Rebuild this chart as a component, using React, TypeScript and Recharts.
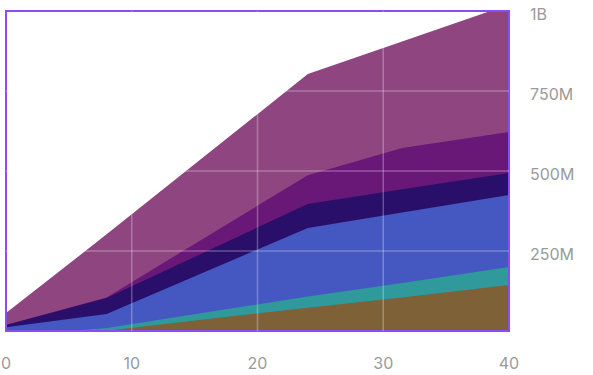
import {
  AreaChart,
  Area,
  XAxis,
  YAxis,
  ReferenceArea,
  ReferenceLine,
} from "recharts";

// x positions of the data points
const xs = [0, 8, 24, 31.5, 40];

// values in millions (each line is drawn from the 0 baseline)
const mauve = [56, 302, 803, 905, 1020];
const purple = [19, 105, 487, 572, 622];
const navy = [19, 103, 397, 443, 494];
const blue = [12, 53, 322, 370, 425];
const teal = [-16, 9, 108, 150, 200];
const brown = [-30, 1, 73, 105, 144];

const xTicks = [0, 10, 20, 30, 40];
const yTicks = [250e6, 500e6, 750e6, 1e9];
// grid lines inside the plot (edges are covered by the border)
const xGrid = [10, 20, 30];
const yGrid = [250e6, 500e6, 750e6];

const data = xs.map((x, i) => ({
  x,
  mauve: mauve[i] * 1e6,
  purple: purple[i] * 1e6,
  navy: navy[i] * 1e6,
  blue: blue[i] * 1e6,
  teal: teal[i] * 1e6,
  brown: brown[i] * 1e6,
}));

const layers = [
  { key: "mauve", color: "#8e4580" },
  { key: "purple", color: "#6a1878" },
  { key: "navy", color: "#2a0f6a" },
  { key: "blue", color: "#4557c0" },
  { key: "teal", color: "#2f999b" },
  { key: "brown", color: "#7f6137" },
];

const tickStyle = { fontSize: 16, fill: "#9a9a9a", fontFamily: "Inter, Roboto, sans-serif" };

function formatY(v: number) {
  if (v >= 1e9) return `${v / 1e9}B`;
  return `${v / 1e6}M`;
}

export default function App() {
  return (
    <div style={{ position: "absolute", left: 0, top: 0 }}>
      <AreaChart
        width={593}
        height={375}
        data={data}
        margin={{ top: 11, right: 0, bottom: 0, left: 6 }}
      >
        <XAxis
          dataKey="x"
          type="number"
          domain={[0, 40]}
          ticks={xTicks}
          tick={tickStyle}
          tickLine={false}
          axisLine={false}
          tickMargin={21}
          height={44}
        />
        <YAxis
          orientation="right"
          type="number"
          domain={[0, 1e9]}
          allowDataOverflow
          ticks={yTicks}
          tickFormatter={formatY}
          tick={{ ...tickStyle, dy: 3 }}
          tickLine={false}
          axisLine={false}
          tickMargin={15}
          width={84}
        />
        {layers.map((l) => (
          <Area
            key={l.key}
            type="linear"
            dataKey={l.key}
            fill={l.color}
            fillOpacity={1}
            stroke="none"
            isAnimationActive={false}
          />
        ))}
        {xGrid.map((v) => (
          <ReferenceLine key={`x${v}`} x={v} stroke="#ffffff" strokeOpacity={0.28} strokeWidth={1.5} />
        ))}
        {yGrid.map((v) => (
          <ReferenceLine key={`y${v}`} y={v} stroke="#ffffff" strokeOpacity={0.28} strokeWidth={1.5} />
        ))}
        <ReferenceArea
          x1={0}
          x2={40}
          y1={0}
          y2={1e9}
          fill="none"
          fillOpacity={0}
          stroke="#8a4cf5"
          strokeWidth={2}
        />
      </AreaChart>
    </div>
  );
}
